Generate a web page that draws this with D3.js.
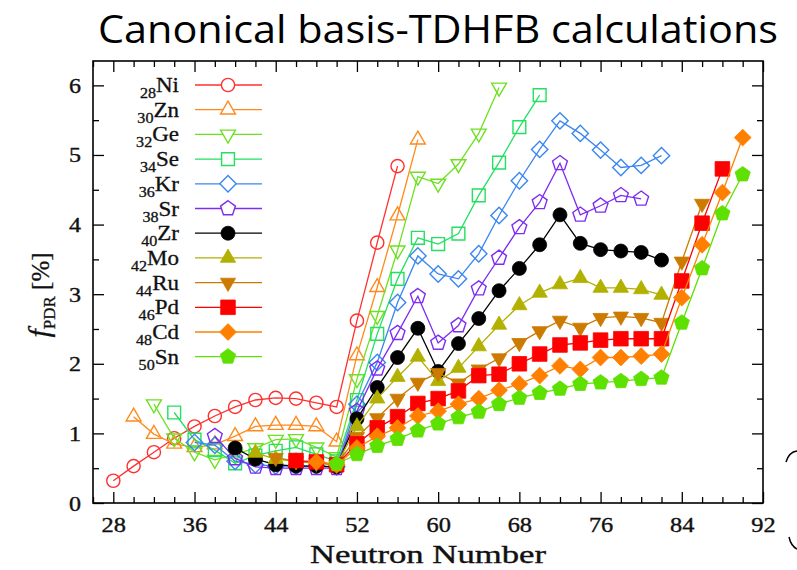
<!DOCTYPE html>
<html>
<head>
<meta charset="utf-8">
<script src="https://cdn.jsdelivr.net/npm/d3@7"></script>
<style>
  html, body { margin: 0; padding: 0; background: #fff; }
  svg { display: block; }
</style>
</head>
<body>
<svg id="chart" width="797" height="570"></svg>
<script>
// ---------------- DATA ----------------
const elements      = ["Ni", "Zn", "Ge", "Se", "Kr", "Sr", "Zr", "Mo", "Ru", "Pd", "Cd", "Sn"];
const protonNumbers = [28, 30, 32, 34, 36, 38, 40, 42, 44, 46, 48, 50];
// first neutron number of each isotopic chain (step of 2 neutrons)
const firstN        = [28, 30, 32, 34, 36, 38, 40, 42, 44, 46, 48, 50];

const fNi = [0.32,0.53,0.73,0.93,1.10,1.25,1.38,1.48,1.51,1.50,1.44,1.38,2.62,3.74,4.84];
const fZn = [1.24,0.99,0.85,0.80,0.84,0.96,1.10,1.12,1.12,1.10,0.88,2.12,3.10,4.13,5.22];
const fGe = [1.42,0.93,0.73,0.62,0.70,0.79,0.91,0.92,0.80,0.66,1.78,2.69,3.63,4.69,4.59,4.87,5.31,5.97];
const fSe = [1.30,0.91,0.76,0.57,0.68,0.75,0.80,0.70,0.60,1.48,2.43,3.22,3.81,3.72,3.87,4.42,4.89,5.40,5.86];
const fKr = [0.87,0.83,0.60,0.55,0.53,0.53,0.53,0.52,1.42,2.02,2.88,3.55,3.29,3.22,3.58,4.13,4.63,5.08,5.49,5.31,5.07,4.82,4.85,4.99];
const fSr = [0.96,0.64,0.52,0.50,0.50,0.50,0.50,1.32,1.93,2.44,2.97,2.30,2.55,3.08,3.52,3.96,4.32,4.88,4.14,4.27,4.42,4.37];
const fZr = [0.79,0.63,0.55,0.53,0.53,0.52,1.21,1.66,2.09,2.51,1.89,2.29,2.65,3.05,3.37,3.71,4.14,3.73,3.64,3.62,3.60,3.49];
const fMo = [0.72,0.63,0.60,0.57,0.55,1.10,1.50,1.81,2.10,1.75,1.94,2.25,2.56,2.84,3.02,3.14,3.23,3.09,3.09,3.07,2.99];
const fRu = [0.65,0.60,0.58,0.55,0.95,1.22,1.50,1.73,1.87,1.72,1.92,2.08,2.30,2.47,2.62,2.52,2.66,2.68,2.66,2.59,3.47,4.30];
const fPd = [0.61,0.59,0.55,0.85,1.08,1.24,1.43,1.50,1.61,1.83,1.85,2.00,2.14,2.27,2.30,2.34,2.36,2.36,2.36,3.19,4.02,4.80];
const fCd = [0.59,0.55,0.79,0.96,1.08,1.25,1.32,1.42,1.50,1.62,1.71,1.83,1.97,1.92,2.09,2.09,2.11,2.14,2.95,3.71,4.46,5.25];
const fSn = [0.56,0.70,0.82,0.92,1.04,1.14,1.23,1.31,1.42,1.51,1.58,1.64,1.71,1.73,1.75,1.78,1.80,2.59,3.37,4.16,4.72];
const seriesValues = [fNi, fZn, fGe, fSe, fKr, fSr, fZr, fMo, fRu, fPd, fCd, fSn];

const xMajorTicks = [28, 36, 44, 52, 60, 68, 76, 84, 92];
const yMajorTicks = [0, 1, 2, 3, 4, 5, 6];

const titleText = "Canonical basis-TDHFB calculations";
const xLabel = "Neutron Number";

// ---------------- STYLE ----------------
const colors  = ["#ff3030", "#ff8a1c", "#6ee022", "#22e060", "#3a86f0", "#7e2cf0",
                 "#000000", "#b2b000", "#cc7a00", "#ff0000", "#ff8000", "#5ee000"];
const shapes  = ["circle", "tri", "triDown", "square", "diamond", "pentagon",
                 "circle", "tri", "triDown", "square", "diamond", "pentagon"];
const filled  = [false, false, false, false, false, false, true, true, true, true, true, true];

const W = 797, H = 570;
const frame = { left: 93, right: 763, top: 61, bottom: 503 };

const svg = d3.select("#chart");
svg.append("rect").attr("width", W).attr("height", H).attr("fill", "#fff");

const x = d3.scaleLinear().domain([26, 92]).range([frame.left, frame.right]);
const y = d3.scaleLinear().domain([0, 6.35]).range([frame.bottom, frame.top]);

// marker path generator
function markerPath(type, filledMarker) {
  const pts = (n, R, start) => d3.range(n).map(i => {
    const a = start + i * 2 * Math.PI / n;
    return [R * Math.cos(a), R * Math.sin(a)];
  });
  const poly = p => "M" + p.map(q => q[0].toFixed(2) + "," + q[1].toFixed(2)).join("L") + "Z";
  switch (type) {
    case "circle": {
      const r = filledMarker ? 7 : 6.6;
      return `M${r},0A${r},${r} 0 1,1 ${-r},0A${r},${r} 0 1,1 ${r},0Z`;
    }
    case "tri":      return poly(pts(3, filledMarker ? 8.8 : 8.6, -Math.PI / 2));
    case "triDown":  return poly(pts(3, filledMarker ? 8.8 : 8.6, Math.PI / 2));
    case "square": {
      const s = filledMarker ? 7.3 : 6.4;
      return poly([[-s, -s], [s, -s], [s, s], [-s, s]]);
    }
    case "diamond":  return poly(pts(4, filledMarker ? 8.4 : 8.2, -Math.PI / 2));
    case "pentagon": return poly(pts(5, filledMarker ? 8.0 : 7.8, -Math.PI / 2));
  }
}

// ---------------- AXES ----------------
const gAxes = svg.append("g");
const xMinor = d3.range(26, 93, 2);
const yMinor = d3.range(0, 6.35, 0.5);

function styleAxis(g) {
  g.select(".domain").remove();
  g.selectAll(".tick line").attr("stroke", "#000").attr("stroke-width", 1.3);
}

// bottom
gAxes.append("g").attr("transform", `translate(0,${frame.bottom})`)
  .call(d3.axisBottom(x).tickValues(xMinor.filter(v => !xMajorTicks.includes(v))).tickSize(-6).tickFormat(""))
  .call(styleAxis);
const gxb = gAxes.append("g").attr("transform", `translate(0,${frame.bottom})`)
  .call(d3.axisBottom(x).tickValues(xMajorTicks).tickSize(-11).tickFormat(d3.format("d")))
  .call(styleAxis);
gxb.selectAll(".tick text")
  .attr("y", 0).attr("dy", 0)
  .attr("transform", "translate(0,29) scale(1.22,1)")
  .attr("font-family", "'Liberation Serif', 'DejaVu Serif', serif")
  .attr("font-size", 20).attr("fill", "#111")
  .attr("stroke", "#111").attr("stroke-width", 0.35);
// top
gAxes.append("g").attr("transform", `translate(0,${frame.top})`)
  .call(d3.axisTop(x).tickValues(xMinor.filter(v => !xMajorTicks.includes(v))).tickSize(-6).tickFormat(""))
  .call(styleAxis);
gAxes.append("g").attr("transform", `translate(0,${frame.top})`)
  .call(d3.axisTop(x).tickValues(xMajorTicks).tickSize(-11).tickFormat(""))
  .call(styleAxis);
// left
gAxes.append("g").attr("transform", `translate(${frame.left},0)`)
  .call(d3.axisLeft(y).tickValues(yMinor.filter(v => !yMajorTicks.includes(v))).tickSize(-6).tickFormat(""))
  .call(styleAxis);
const gyl = gAxes.append("g").attr("transform", `translate(${frame.left},0)`)
  .call(d3.axisLeft(y).tickValues(yMajorTicks).tickSize(-11).tickFormat(d3.format("d")))
  .call(styleAxis);
gyl.selectAll(".tick text")
  .attr("x", 0).attr("dy", "0.35em")
  .attr("transform", "translate(-12,0) scale(1.2,1)")
  .attr("text-anchor", "end")
  .attr("font-family", "'Liberation Serif', 'DejaVu Serif', serif")
  .attr("font-size", 20).attr("fill", "#111")
  .attr("stroke", "#111").attr("stroke-width", 0.35);
// right
gAxes.append("g").attr("transform", `translate(${frame.right},0)`)
  .call(d3.axisRight(y).tickValues(yMinor.filter(v => !yMajorTicks.includes(v))).tickSize(-6).tickFormat(""))
  .call(styleAxis);
gAxes.append("g").attr("transform", `translate(${frame.right},0)`)
  .call(d3.axisRight(y).tickValues(yMajorTicks).tickSize(-11).tickFormat(""))
  .call(styleAxis);

// frame
svg.append("rect")
  .attr("x", frame.left).attr("y", frame.top)
  .attr("width", frame.right - frame.left).attr("height", frame.bottom - frame.top)
  .attr("fill", "none").attr("stroke", "#000").attr("stroke-width", 1.6);

// ---------------- SERIES ----------------
const line = d3.line().x(d => x(d.n)).y(d => y(d.v));
const gSeries = svg.append("g");
elements.forEach((el, i) => {
  const data = seriesValues[i].map((v, k) => ({ n: firstN[i] + 2 * k, v }));
  const g = gSeries.append("g");
  g.append("path").datum(data).attr("d", line)
    .attr("fill", "none").attr("stroke", colors[i]).attr("stroke-width", 1.3);
  g.selectAll("path.m").data(data).join("path").attr("class", "m")
    .attr("transform", d => `translate(${x(d.n)},${y(d.v)})`)
    .attr("d", markerPath(shapes[i], filled[i]))
    .attr("fill", filled[i] ? colors[i] : "none")
    .attr("stroke", colors[i]).attr("stroke-width", filled[i] ? 0.8 : 1.4);
});

// ---------------- LEGEND ----------------
const legendTop = 85, legendStep = 24.7;
const gLeg = svg.append("g");
elements.forEach((el, i) => {
  const yy = legendTop + i * legendStep;
  gLeg.append("line").attr("x1", 195).attr("x2", 262).attr("y1", yy).attr("y2", yy)
    .attr("stroke", colors[i]).attr("stroke-width", 1.3);
  gLeg.append("path").attr("transform", `translate(228,${yy})`)
    .attr("d", markerPath(shapes[i], filled[i]))
    .attr("fill", filled[i] ? colors[i] : "#fff")
    .attr("stroke", colors[i]).attr("stroke-width", filled[i] ? 0.8 : 1.4);
  const t = gLeg.append("text")
    .attr("transform", `translate(179,${yy + 7}) scale(1.15,1)`)
    .attr("text-anchor", "end")
    .attr("font-family", "'Liberation Serif', 'DejaVu Serif', serif")
    .attr("fill", "#111").attr("stroke", "#111").attr("stroke-width", 0.3);
  t.append("tspan").attr("font-size", 14).attr("dy", 6).text(protonNumbers[i]);
  t.append("tspan").attr("font-size", 20).attr("dy", -6).text(el);
});

// ---------------- LABELS ----------------
svg.append("text")
  .attr("x", 98).attr("y", 43)
  .attr("font-family", "'Open Sans', 'Noto Sans', sans-serif")
  .attr("font-size", 39).attr("fill", "#000")
  .attr("textLength", 680).attr("lengthAdjust", "spacingAndGlyphs")
  .text(titleText);

svg.append("text")
  .attr("x", 428).attr("y", 563)
  .attr("text-anchor", "middle")
  .attr("font-family", "'Liberation Serif', 'DejaVu Serif', serif")
  .attr("font-size", 25).attr("fill", "#111")
  .attr("stroke", "#111").attr("stroke-width", 0.35)
  .attr("textLength", 236).attr("lengthAdjust", "spacingAndGlyphs")
  .text(xLabel);

const yl = svg.append("text")
  .attr("transform", "translate(49,295) rotate(-90)")
  .attr("text-anchor", "middle")
  .attr("font-family", "'Liberation Serif', 'DejaVu Serif', serif")
  .attr("fill", "#111").attr("stroke", "#111").attr("stroke-width", 0.3);
yl.append("tspan").attr("font-style", "italic").attr("font-size", 30).text("f");
yl.append("tspan").attr("font-size", 17).attr("dy", 6).text("PDR");
yl.append("tspan").attr("font-size", 25).attr("dy", -6).text(" [%]");

// stray bracket fragments at the right edge of the slide
svg.append("path").attr("d", "M797,451 Q789,452 786,462")
  .attr("fill", "none").attr("stroke", "#000").attr("stroke-width", 1.5);
svg.append("path").attr("d", "M789,537 Q791,546 797,549")
  .attr("fill", "none").attr("stroke", "#000").attr("stroke-width", 1.5);
</script>
</body>
</html>
